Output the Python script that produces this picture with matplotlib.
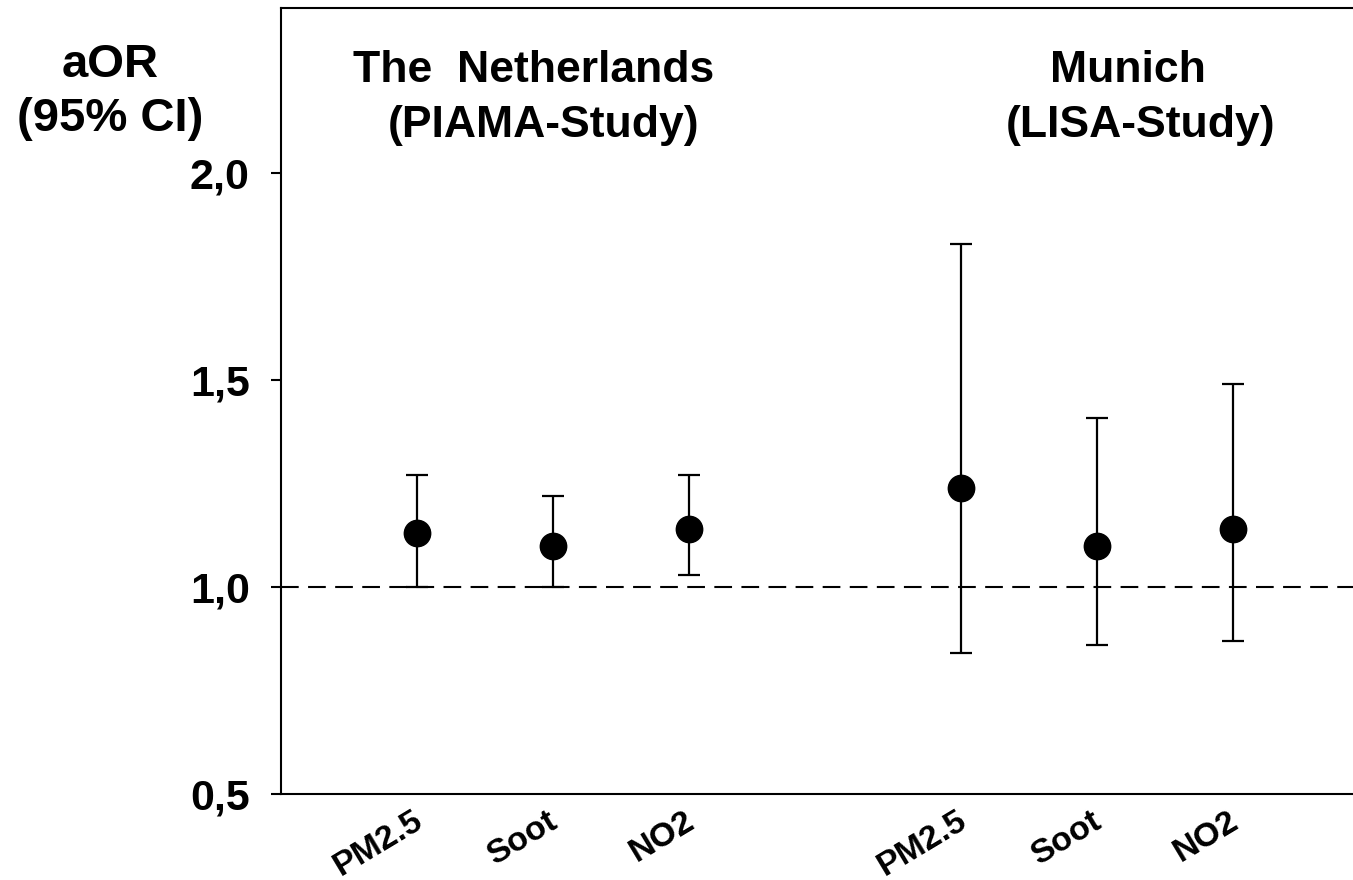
import matplotlib.pyplot as plt
import matplotlib.transforms as mtransforms
import numpy as np

plt.rcParams["font.family"] = ["Liberation Sans", "DejaVu Sans"]
plt.rcParams["font.weight"] = "bold"

# data
pollutants = ["PM2.5", "Soot", "NO2", "PM2.5", "Soot", "NO2"]
xpos = [1, 2, 3, 5, 6, 7]
aor = [1.13, 1.10, 1.14, 1.24, 1.10, 1.14]
ci_low = [1.00, 1.00, 1.03, 0.84, 0.86, 0.87]
ci_high = [1.27, 1.22, 1.27, 1.83, 1.41, 1.49]
yticks = [0.5, 1.0, 1.5, 2.0]
ytick_labels = ["0,5", "1,0", "1,5", "2,0"]

aor = np.array(aor)
yerr = [aor - np.array(ci_low), np.array(ci_high) - aor]

fig = plt.figure(figsize=(13.53, 8.8), dpi=100)
ax = fig.add_axes([281 / 1353, 86 / 880, 1088 / 1353, 786 / 880])

ax.axhline(1.0, color="black", lw=1.5, ls=(0, (8.5, 4.5)), zorder=1)
ax.errorbar(xpos, aor, yerr=yerr, fmt="o", color="black", ms=19,
            elinewidth=1.6, capsize=8, capthick=1.6, zorder=3)

ax.set_xlim(0, 8)
ax.set_ylim(0.5, 2.4)
ax.set_yticks(yticks)
ax.set_yticklabels(ytick_labels, fontsize=31, fontweight="bold")
ax.tick_params(axis="y", direction="out", length=7.5, width=1.5, pad=15)
ax.set_xticks(xpos)
ax.set_xticklabels(pollutants, fontsize=24.5, fontweight="bold", rotation=31,
                   ha="right", rotation_mode="anchor")
ax.tick_params(axis="x", length=0, pad=8)
shift = mtransforms.ScaledTranslation(-0.05, 0, fig.dpi_scale_trans)
for lab in ax.get_xticklabels():
    lab.set_transform(lab.get_transform() + shift)
for s in ["left", "bottom", "top", "right"]:
    ax.spines[s].set_linewidth(1.5)

ax.text(1.86, 2.25, "The  Netherlands", ha="center", va="center", fontsize=32, fontweight="bold")
ax.text(1.93, 2.117, "(PIAMA-Study)", ha="center", va="center", fontsize=32, fontweight="bold")
ax.text(6.23, 2.25, "Munich", ha="center", va="center", fontsize=32, fontweight="bold")
ax.text(6.32, 2.117, "(LISA-Study)", ha="center", va="center", fontsize=32, fontweight="bold")

fig.text(110 / 1353, 1 - 65 / 880, "aOR", ha="center", va="center", fontsize=34, fontweight="bold")
fig.text(110 / 1353, 1 - 119 / 880, "(95% CI)", ha="center", va="center", fontsize=34, fontweight="bold")

fig.savefig("out.png", dpi=100)
